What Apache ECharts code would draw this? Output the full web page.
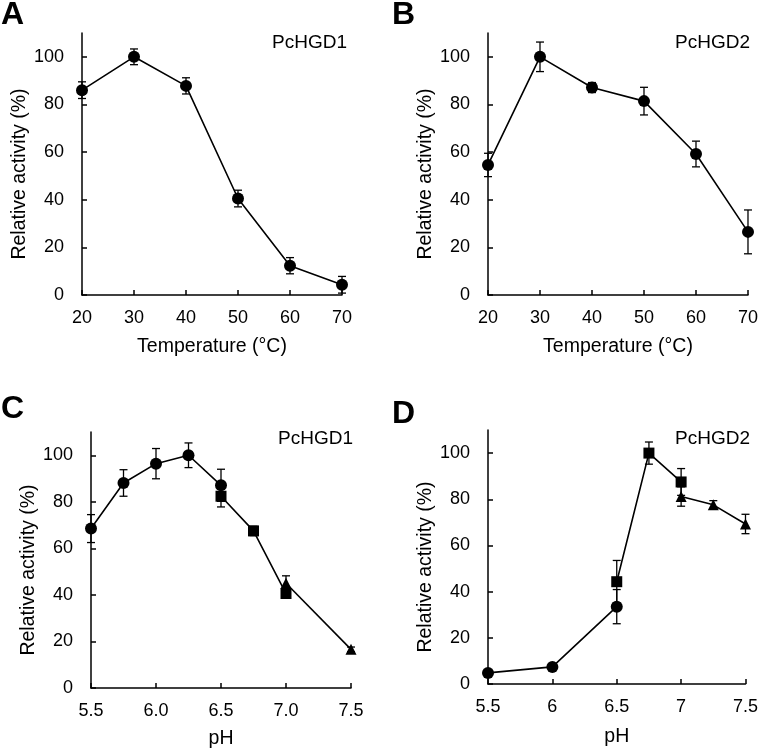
<!DOCTYPE html>
<html><head><meta charset="utf-8">
<script src="https://cdn.jsdelivr.net/npm/echarts@6/dist/echarts.min.js"></script>
<style>html,body{margin:0;padding:0;background:#fff}#c{width:761px;height:750px}</style>
</head><body><div id="c"></div>
<script>
// Panel A: PcHGD1 temperature
const tempX = [20, 30, 40, 50, 60, 70];
const aVals = [86, 100, 87.8, 40.5, 12.3, 4.3];
const aErr = [3.5, 3.3, 3.4, 3.5, 3.4, 3.5];
// Panel B: PcHGD2 temperature
const bVals = [54.6, 100, 87.1, 81.4, 59.2, 26.5];
const bErr = [4.9, 6.2, 2.1, 5.8, 5.4, 9.2];
// Panel C: PcHGD1 pH (three buffers)
const cCircX = [5.5, 5.75, 6.0, 6.25, 6.5];
const cCircV = [68.5, 88.1, 96.4, 100, 87.1];
const cCircE = [6.0, 5.7, 6.5, 5.3, 6.9];
const cSqX = [6.5, 6.75, 7.0];
const cSqV = [82.4, 67.5, 40.6];
const cSqE = [4.6, 2.0, 1.0];
const cTriX = [7.0, 7.5];
const cTriV = [45.0, 16.6];
const cTriE = [3.2, 1.0];
// Panel D: PcHGD2 pH
const dCircX = [5.5, 6.0, 6.5];
const dCircV = [4.8, 7.4, 33.5];
const dCircE = [0.8, 0.8, 7.4];
const dSqX = [6.5, 6.75, 7.0];
const dSqV = [44.3, 100, 87.5];
const dSqE = [9.2, 4.8, 5.8];
const dTriX = [7.0, 7.25, 7.5];
const dTriV = [81.2, 77.6, 69.3];
const dTriE = [4.2, 1.8, 4.2];
const yTicks = [0, 20, 40, 60, 80, 100];

const FONT = 'Arial, "Liberation Sans", sans-serif';
const pts = (xs, vs) => xs.map((x, i) => [x, vs[i]]);
const errPts = (xs, vs, es) => xs.map((x, i) => [x, vs[i], es[i]]);

function lineSeries(idx, xs, vs, sym, size) {
  return {type: 'line', xAxisIndex: idx, yAxisIndex: idx, data: pts(xs, vs),
    symbol: sym, symbolSize: size, showAllSymbol: true, z: 5,
    lineStyle: {color: '#000', width: 1.6}, itemStyle: {color: '#000'},
    emphasis: {disabled: true}, animation: false};
}
function errSeries(idx, xs, vs, es) {
  return {type: 'custom', xAxisIndex: idx, yAxisIndex: idx, z: 3, animation: false,
    data: errPts(xs, vs, es),
    renderItem: function (params, api) {
      const x = api.value(0), y = api.value(1), e = api.value(2);
      const top = api.coord([x, y + e]);
      const bot = api.coord([x, y - e]);
      const w = 4;
      const st = {stroke: '#000', lineWidth: 1.3};
      return {type: 'group', children: [
        {type: 'line', shape: {x1: top[0], y1: top[1], x2: bot[0], y2: bot[1]}, style: st},
        {type: 'line', shape: {x1: top[0] - w, y1: top[1], x2: top[0] + w, y2: top[1]}, style: st},
        {type: 'line', shape: {x1: bot[0] - w, y1: bot[1], x2: bot[0] + w, y2: bot[1]}, style: st}
      ]};
    }};
}
const axisLine = {lineStyle: {color: '#000', width: 1.5}};
const tick = {inside: true, length: 5, lineStyle: {color: '#000', width: 1.5}};
const lbl = {color: '#000', fontSize: 18, fontFamily: FONT};
const nameStyle = {color: '#000', fontSize: 19.5, fontFamily: FONT};
function xAx(idx, min, max, interval, name, fmt, margin, gap) {
  return {type: 'value', gridIndex: idx, min: min, max: max, interval: interval,
    name: name, nameLocation: 'middle', nameGap: gap,
    nameTextStyle: nameStyle,
    axisLine: axisLine, axisTick: tick, splitLine: {show: false},
    axisLabel: Object.assign({margin: margin, formatter: fmt}, lbl)};
}
function yAx(idx) {
  return {type: 'value', gridIndex: idx, min: 0, max: 110,
    name: 'Relative activity (%)', nameLocation: 'middle', nameGap: 50,
    nameTextStyle: Object.assign({padding: [0, 20, 0, 0]}, nameStyle),
    axisLine: axisLine, splitLine: {show: false},
    axisTick: Object.assign({customValues: yTicks}, tick),
    axisLabel: Object.assign({margin: 18, customValues: yTicks}, lbl)};
}
const letter = (t, l, tp) => ({text: t, left: l, top: tp, padding: 0,
  textStyle: {fontSize: 32, fontWeight: 'bold', color: '#000', fontFamily: FONT}});
const tag = (t, r, tp) => ({text: t, right: r, top: tp, padding: 0,
  textStyle: {fontSize: 19, fontWeight: 'normal', color: '#000', fontFamily: FONT}});

const chart = echarts.init(document.getElementById('c'), null, {renderer: 'canvas'});
chart.setOption({
  animation: false,
  backgroundColor: '#fff',
  title: [
    letter('A', 1, -1), letter('B', 392, -1), letter('C', 1, 393), letter('D', 392, 398),
    tag('PcHGD1', 414, 33), tag('PcHGD2', 11, 33), tag('PcHGD1', 408, 429), tag('PcHGD2', 11, 429)
  ],
  grid: [
    {left: 82, top: 33, width: 260, height: 262},
    {left: 488, top: 33, width: 261, height: 262},
    {left: 91, top: 432, width: 260, height: 256},
    {left: 488, top: 430, width: 260, height: 254}
  ],
  xAxis: [
    xAx(0, 20, 70, 10, 'Temperature (°C)', v => String(v), 14, 42),
    xAx(1, 20, 70, 10, 'Temperature (°C)', v => String(v), 14, 42),
    xAx(2, 5.5, 7.5, 0.5, 'pH', v => v.toFixed(1), 14, 41),
    xAx(3, 5.5, 7.5, 0.5, 'pH', v => String(v), 14, 43)
  ],
  yAxis: [yAx(0), yAx(1), yAx(2), yAx(3)],
  series: [
    errSeries(0, tempX, aVals, aErr), lineSeries(0, tempX, aVals, 'circle', 12),
    errSeries(1, tempX, bVals, bErr), lineSeries(1, tempX, bVals, 'circle', 12),
    errSeries(2, cCircX, cCircV, cCircE), lineSeries(2, cCircX, cCircV, 'circle', 12),
    errSeries(2, cSqX, cSqV, cSqE), lineSeries(2, cSqX, cSqV, 'rect', 11),
    errSeries(2, cTriX, cTriV, cTriE), lineSeries(2, cTriX, cTriV, 'triangle', 11),
    errSeries(3, dCircX, dCircV, dCircE), lineSeries(3, dCircX, dCircV, 'circle', 12),
    errSeries(3, dSqX, dSqV, dSqE), lineSeries(3, dSqX, dSqV, 'rect', 11),
    errSeries(3, dTriX, dTriV, dTriE), lineSeries(3, dTriX, dTriV, 'triangle', 11)
  ]
});
</script></body></html>
